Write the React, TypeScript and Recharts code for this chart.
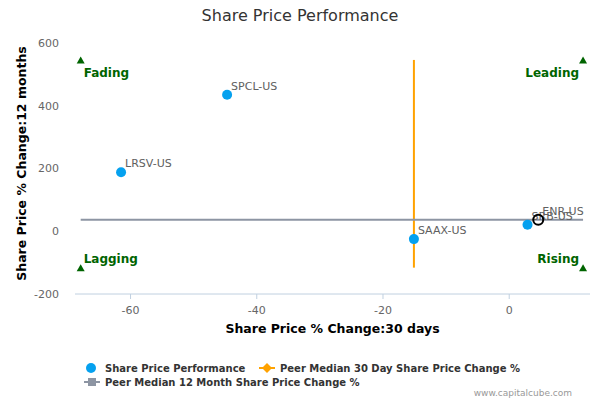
import { ScatterChart, Scatter, XAxis, YAxis, ReferenceLine } from 'recharts';

const companies = ['SPCL-US', 'LRSV-US', 'SAAX-US', 'SRB-US', 'ENR-US'];
const change30d = [-44.7, -61.5, -15.1, 2.9, 4.6];
const change12m = [435, 188, -25, 21, 37];
const highlighted = 'ENR-US';

const peerMedian30d = -15.1;
const peerMedian12m = 37;

const quadrantNames = ['Fading', 'Leading', 'Lagging', 'Rising'];
const quadrantX = [-67.9, 11.7, -67.9, 11.7];
const quadrantY = [546, 546, -116, -116];

const xTicks = [-60, -40, -20, 0];
const yTicks = [-200, 0, 200, 400, 600];
const xDomain = [-68.8, 12.8];
const yDomain = [-200, 600];

const FONT = '"DejaVu Sans", Verdana, sans-serif';
const BLUE = '#05a1ef';
const ORANGE = '#ffa200';
const GREY = '#8d95a3';
const GREEN = '#006400';

const peers = companies
  .map((name, i) => ({ name, x: change30d[i], y: change12m[i] }))
  .filter((d) => d.name !== highlighted);
const focus = companies
  .map((name, i) => ({ name, x: change30d[i], y: change12m[i] }))
  .filter((d) => d.name === highlighted);
const quadrants = quadrantNames.map((name, i) => ({ name, x: quadrantX[i], y: quadrantY[i] }));

function PeerDot(props: any) {
  const { cx, cy, payload } = props;
  return (
    <g>
      <circle cx={cx} cy={cy} r={5} fill={BLUE} />
      <text x={cx + 4} y={cy - 5} fontSize={11} fill="#606060" fontFamily={FONT}>
        {payload.name}
      </text>
    </g>
  );
}

function FocusDot(props: any) {
  const { cx, cy, payload } = props;
  return (
    <g>
      <circle cx={cx} cy={cy} r={5} fill="none" stroke="#000" strokeWidth={2} />
      <text x={cx + 4} y={cy - 5} fontSize={11} fill="#606060" fontFamily={FONT}>
        {payload.name}
      </text>
    </g>
  );
}

function QuadrantMark(props: any) {
  const { cx, cy, payload } = props;
  const left = payload.x < 0;
  const top = payload.y > 0;
  return (
    <g>
      <path d={`M${cx - 4},${cy + 3.5} L${cx + 4},${cy + 3.5} L${cx},${cy - 3.5} Z`} fill={GREEN} />
      <text
        x={left ? cx + 3 : cx - 4}
        y={top ? cy + 17 : cy - 5}
        textAnchor={left ? 'start' : 'end'}
        fontSize={12}
        fontWeight="bold"
        fill={GREEN}
        fontFamily={FONT}
      >
        {payload.name}
      </text>
    </g>
  );
}

function XTitle(props: any) {
  const { x, y, width } = props.viewBox;
  return (
    <text x={x + width / 2} y={y + 39} textAnchor="middle" fontSize={12.5} fontWeight="bold" fill="#000" fontFamily={FONT}>
      Share Price % Change:30 days
    </text>
  );
}

function YTitle(props: any) {
  const { x, y, height } = props.viewBox;
  const cx = x + 26;
  const cy = y + height / 2 - 5;
  return (
    <text
      x={cx}
      y={cy}
      transform={`rotate(-90, ${cx}, ${cy})`}
      textAnchor="middle"
      fontSize={12.5}
      fontWeight="bold"
      fill="#000"
      fontFamily={FONT}
    >
      Share Price % Change:12 months
    </text>
  );
}

export default function App() {
  const tickStyle = { fontSize: 11, fill: '#666', fontFamily: FONT };
  return (
    <div style={{ position: 'absolute', left: 0, top: 0, width: 600, height: 400, background: '#fff' }}>
      <div style={{ position: 'absolute', left: 0, top: 6, width: 600, textAlign: 'center', fontFamily: FONT, fontSize: 16, color: '#333' }}>
        Share Price Performance
      </div>
      <ScatterChart width={600} height={400} margin={{ top: 43, right: 10, left: 0, bottom: 66 }}>
        <XAxis
          type="number"
          dataKey="x"
          domain={xDomain}
          ticks={xTicks}
          allowDataOverflow
          height={40}
          stroke="#c0d0e0"
          tickSize={5}
          tickMargin={7}
          tick={tickStyle}
          label={<XTitle />}
        />
        <YAxis
          type="number"
          dataKey="y"
          domain={yDomain}
          ticks={yTicks}
          allowDataOverflow
          width={75}
          axisLine={false}
          tickLine={false}
          tickSize={0}
          tickMargin={16}
          tick={tickStyle}
          label={<YTitle />}
        />
        <ReferenceLine
          segment={[
            { x: peerMedian30d, y: quadrantY[2] },
            { x: peerMedian30d, y: quadrantY[0] },
          ]}
          stroke={ORANGE}
          strokeWidth={2}
        />
        <ReferenceLine
          segment={[
            { x: quadrantX[0], y: peerMedian12m },
            { x: quadrantX[1], y: peerMedian12m },
          ]}
          stroke={GREY}
          strokeWidth={2}
        />
        <Scatter data={quadrants} shape={<QuadrantMark />} isAnimationActive={false} />
        <Scatter data={peers} shape={<PeerDot />} isAnimationActive={false} />
        <Scatter data={focus} shape={<FocusDot />} isAnimationActive={false} />
      </ScatterChart>
      <svg width={600} height={45} style={{ position: 'absolute', left: 0, top: 355 }}>
        <g fontFamily={FONT} fontSize={10} fontWeight="bold" fill="#333">
          <circle cx={91} cy={13} r={5} fill={BLUE} />
          <text x={105} y={17}>Share Price Performance</text>
          <line x1={259} y1={13} x2={275} y2={13} stroke={ORANGE} strokeWidth={2} />
          <path d="M267,8 L272,13 L267,18 L262,13 Z" fill={ORANGE} />
          <text x={280} y={17}>Peer Median 30 Day Share Price Change %</text>
          <line x1={84} y1={27} x2={100} y2={27} stroke={GREY} strokeWidth={2} />
          <rect x={88} y={23} width={8} height={8} fill={GREY} />
          <text x={105} y={31}>Peer Median 12 Month Share Price Change %</text>
        </g>
        <text x={572} y={41} textAnchor="end" fontFamily={FONT} fontSize={9} fill="#999">
          www.capitalcube.com
        </text>
      </svg>
    </div>
  );
}
